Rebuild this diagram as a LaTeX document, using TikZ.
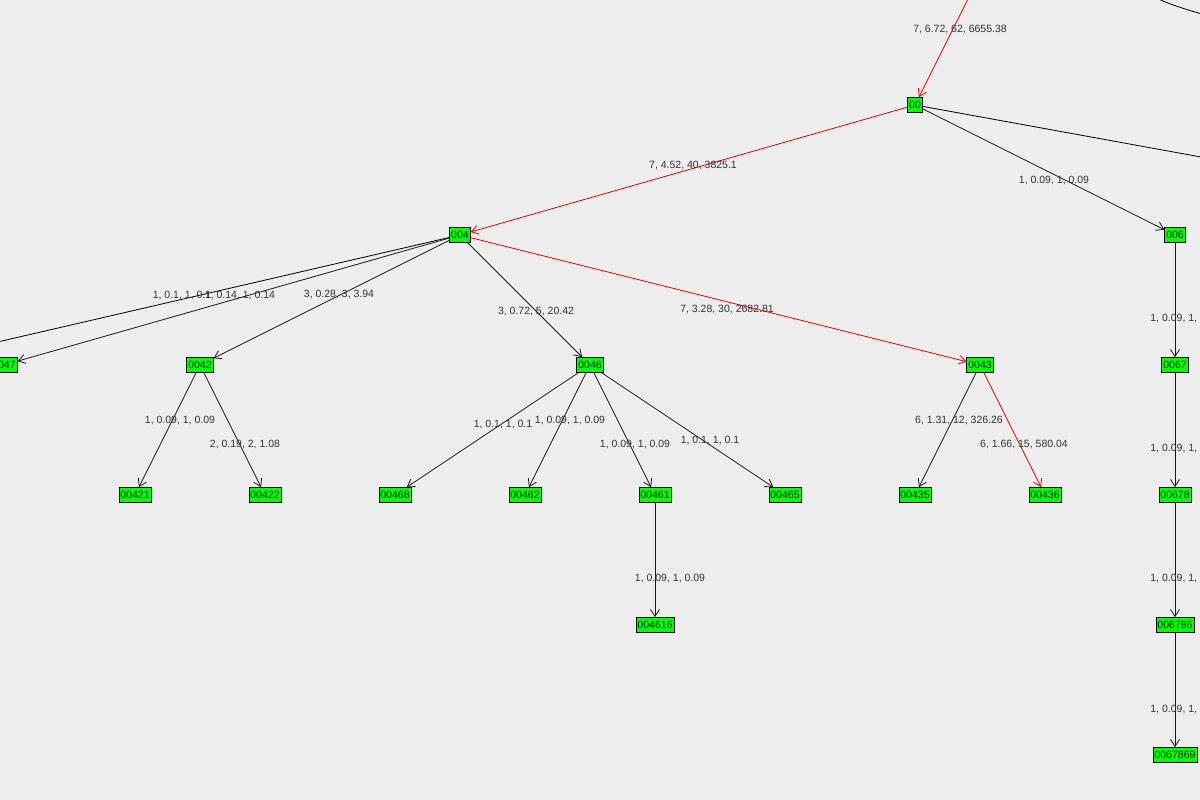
\documentclass[tikz,border=0pt]{standalone}
\usepackage{fontspec}
\setmainfont{Liberation Sans}
\usetikzlibrary{arrows.meta}
\begin{document}
\begin{tikzpicture}[x=1pt,y=-1pt,line width=0.8pt,
  nd/.style={draw=black,fill=green,inner sep=1.5pt,minimum height=15pt,line width=0.7pt,font=\fontsize{10.5}{10.5}\selectfont,text=black!70!green!40!black},
  ed/.style={draw=black!90,-{Straight Barb[length=7pt,width=9pt]}},
  rd/.style={draw=red!90!black,-{Straight Barb[length=7pt,width=9pt]}},
  lb/.style={font=\fontsize{10.5}{10.5}\selectfont,text=black!80,inner sep=0pt}]
\fill[black!7] (0,0) rectangle (1200,800);
\useasboundingbox (0,0) rectangle (1200,800);
\clip (0,0) rectangle (1200,800);
\node[nd] (n00) at (915,105) {00};
\node[nd] (n004) at (460,235) {004};
\node[nd] (n006) at (1175,235) {006};
\node[nd] (n0047) at (4,365) {0047};
\node[nd] (n0042) at (200,365) {0042};
\node[nd] (n0046) at (590,365) {0046};
\node[nd] (n0043) at (980,365) {0043};
\node[nd] (n0067) at (1175,365) {0067};
\node[nd] (n00421) at (135,495) {00421};
\node[nd] (n00422) at (265,495) {00422};
\node[nd] (n00468) at (395,495) {00468};
\node[nd] (n00462) at (525,495) {00462};
\node[nd] (n00461) at (655,495) {00461};
\node[nd] (n00465) at (785,495) {00465};
\node[nd] (n00435) at (915,495) {00435};
\node[nd] (n00436) at (1045,495) {00436};
\node[nd] (n00678) at (1175,495) {00678};
\node[nd] (n004616) at (655,625) {004616};
\node[nd] (n006786) at (1175,625) {006786};
\node[nd] (n0067869) at (1175,755) {0067869};
\coordinate (top) at (980,-25);
\coordinate (right1) at (1300,175);
\coordinate (left1) at (-50,353);
\coordinate (c1) at (1140,-10);
\coordinate (c2) at (1240,25);
\draw[rd] (top) -- (n00);
\draw[draw=black] (c1) .. controls (1170,5) .. (c2);
\draw[draw=black] (n00) -- (right1);
\draw[rd] (n00) -- (n004);
\draw[ed] (n00) -- (n006);
\draw[draw=black] (n004) -- (left1);
\draw[ed] (n004) -- (n0047);
\draw[ed] (n004) -- (n0042);
\draw[ed] (n004) -- (n0046);
\draw[rd] (n004) -- (n0043);
\draw[ed] (n006) -- (n0067);
\draw[ed] (n0042) -- (n00421);
\draw[ed] (n0042) -- (n00422);
\draw[ed] (n0046) -- (n00468);
\draw[ed] (n0046) -- (n00462);
\draw[ed] (n0046) -- (n00461);
\draw[ed] (n0046) -- (n00465);
\draw[ed] (n0043) -- (n00435);
\draw[rd] (n0043) -- (n00436);
\draw[ed] (n0067) -- (n00678);
\draw[ed] (n00461) -- (n004616);
\draw[ed] (n00678) -- (n006786);
\draw[ed] (n006786) -- (n0067869);
\node[lb] (l1) at (960,30) {7, 6.72, 62, 6655.38};
\node[lb] (l2) at (693,166) {7, 4.52, 40, 3825.1};
\node[lb] (l3) at (1054,181) {1, 0.09, 1, 0.09};
\node[lb] (l4) at (182,296) {1, 0.1, 1, 0.1};
\node[lb] (l5) at (240,296) {1, 0.14, 1, 0.14};
\node[lb] (l6) at (339,295) {3, 0.28, 3, 3.94};
\node[lb] (l7) at (536,312) {3, 0.72, 5, 20.42};
\node[lb] (l8) at (727,310) {7, 3.28, 30, 2682.81};
\node[lb,anchor=west] (l9) at (1150,319) {1, 0.09, 1, 0.09};
\node[lb] (l10) at (180,421) {1, 0.09, 1, 0.09};
\node[lb] (l11) at (245,445) {2, 0.19, 2, 1.08};
\node[lb] (l12) at (503,425) {1, 0.1, 1, 0.1};
\node[lb] (l13) at (570,421) {1, 0.09, 1, 0.09};
\node[lb] (l14) at (635,445) {1, 0.09, 1, 0.09};
\node[lb] (l15) at (710,441) {1, 0.1, 1, 0.1};
\node[lb] (l16) at (959,421) {6, 1.31, 12, 326.26};
\node[lb] (l17) at (1024,445) {6, 1.66, 15, 580.04};
\node[lb,anchor=west] (l18) at (1150,449) {1, 0.09, 1, 0.09};
\node[lb] (l19) at (670,579) {1, 0.09, 1, 0.09};
\node[lb,anchor=west] (l20) at (1150,579) {1, 0.09, 1, 0.09};
\node[lb,anchor=west] (l21) at (1150,709) {1, 0.09, 1, 0.09};
\end{tikzpicture}
\end{document}
